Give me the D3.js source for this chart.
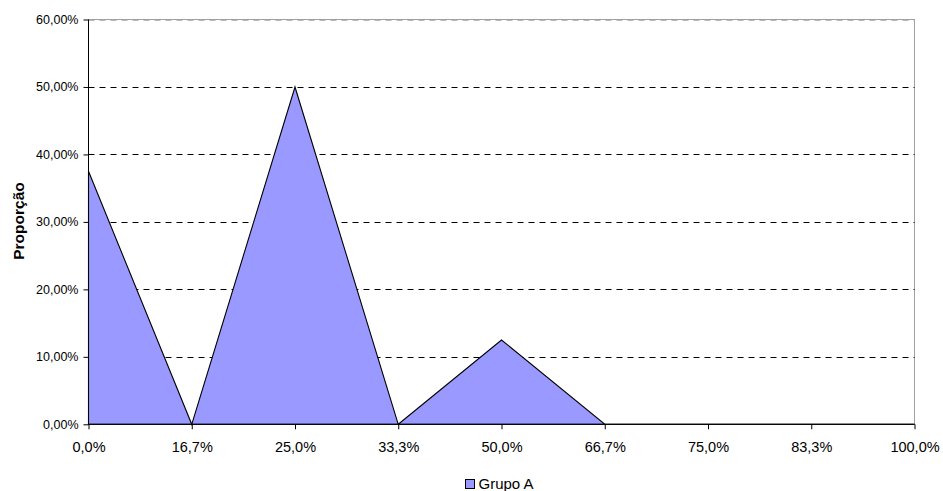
<!DOCTYPE html>
<html>
<head>
<meta charset="utf-8">
<script src="https://cdn.jsdelivr.net/npm/d3@7/dist/d3.min.js"></script>
<style>
  html, body { margin: 0; padding: 0; background: #fff; }
  svg { display: block; font-family: "Liberation Sans", Arial, sans-serif; }
</style>
</head>
<body>
<svg id="chart" width="943" height="491"></svg>
<script>
// Category labels along the x axis
const categories = ["0,0%", "16,7%", "25,0%", "33,3%", "50,0%", "66,7%", "75,0%", "83,3%", "100,0%"];
// Proportion for each category (Grupo A)
const grupoA = [0.375, 0.0, 0.5, 0.0, 0.125, 0.0, 0.0, 0.0, 0.0];
// Y axis ticks
const yTicks = [0, 0.1, 0.2, 0.3, 0.4, 0.5, 0.6];
const seriesName = "Grupo A";
const yTitle = "Proporção";

const svg = d3.select("#chart");
const margin = { left: 88.5, right: 28.5, top: 19.5, bottom: 66.5 };
const W = 943, H = 491;

const x = d3.scalePoint()
  .domain(categories)
  .range([margin.left, W - margin.right]);

const y = d3.scaleLinear()
  .domain([0, 0.6])
  .range([H - margin.bottom - 0.2, margin.top]);

const fmtY = v => (v * 100).toFixed(2).replace(".", ",") + "%";

// Plot-area frame (grey)
svg.append("rect")
  .attr("x", margin.left).attr("y", margin.top)
  .attr("width", x(categories[categories.length - 1]) - margin.left)
  .attr("height", y(0) - margin.top)
  .attr("fill", "none").attr("stroke", "#a0a0a0").attr("stroke-width", 1);

// Dashed horizontal gridlines
svg.append("g")
  .selectAll("line")
  .data(yTicks.filter(d => d > 0))
  .join("line")
  .attr("x1", margin.left).attr("x2", x(categories[categories.length - 1]))
  .attr("y1", d => Math.round(y(d)) + 0.5).attr("y2", d => Math.round(y(d)) + 0.5)
  .attr("stroke", d => d === 0.6 ? "#b8b8b8" : "#000")
  .attr("stroke-width", 1)
  .attr("stroke-dasharray", "6,5");

// Area series
const area = d3.area()
  .x((d, i) => x(categories[i]))
  .y0(y(0))
  .y1(d => y(d));

svg.append("path")
  .datum(grupoA)
  .attr("d", area)
  .attr("fill", "#9999FF")
  .attr("stroke", "#000")
  .attr("stroke-width", 1.1)
  .attr("stroke-linejoin", "miter");

// Y axis
const yAxis = d3.axisLeft(y)
  .tickValues(yTicks)
  .tickFormat(fmtY)
  .tickSize(5)
  .tickPadding(5);

const gy = svg.append("g")
  .attr("transform", `translate(${margin.left},0)`)
  .call(yAxis);
gy.select(".domain").attr("stroke", "#000").attr("d", `M0,${y(0.6)}V${y(0)}`);
gy.selectAll(".tick line").attr("stroke", "#000");
gy.selectAll(".tick text")
  .attr("font-size", 12.5)
  .attr("fill", "#000")
  .attr("font-family", "'Liberation Sans', Arial, sans-serif");

// X axis
const xAxis = d3.axisBottom(x)
  .tickSize(5)
  .tickPadding(12);

const gx = svg.append("g")
  .attr("transform", `translate(0,${y(0)})`)
  .call(xAxis);
gx.select(".domain").attr("stroke", "#000")
  .attr("d", `M${margin.left},0H${x(categories[categories.length - 1])}`);
gx.selectAll(".tick line").attr("stroke", "#000");
gx.selectAll(".tick text")
  .attr("font-size", 14.5)
  .attr("fill", "#000")
  .attr("font-family", "'Liberation Sans', Arial, sans-serif");

// Y axis title
svg.append("text")
  .attr("transform", `translate(24,221) rotate(-90)`)
  .attr("text-anchor", "middle")
  .attr("font-size", 15.5)
  .attr("font-weight", "bold")
  .text(yTitle);

// Legend
const lg = svg.append("g").attr("transform", "translate(465,479)");
lg.append("rect")
  .attr("x", 0.5).attr("y", 0.5)
  .attr("width", 9).attr("height", 9)
  .attr("fill", "#9999FF").attr("stroke", "#000");
lg.append("text")
  .attr("x", 13.5).attr("y", 10)
  .attr("font-size", 15)
  .text(seriesName);
</script>
</body>
</html>
